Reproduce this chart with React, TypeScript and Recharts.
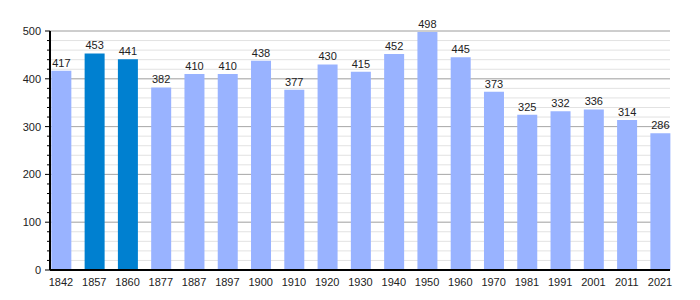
import React from 'react';
import { BarChart, Bar, XAxis, YAxis, CartesianGrid, LabelList, Cell } from 'recharts';

const years = ['1842','1857','1860','1877','1887','1897','1900','1910','1920','1930','1940','1950','1960','1970','1981','1991','2001','2011','2021'];
const population = [417,453,441,382,410,410,438,377,430,415,452,498,445,373,325,332,336,314,286];
const highlighted = ['1857','1860'];
const yTicks = [0,20,40,60,80,100,120,140,160,180,200,220,240,260,280,300,320,340,360,380,400,420,440,460,480,500];
const majorTicks = [100,200,300,400,500];

const data = years.map((y, i) => ({ idx: i, year: y, value: population[i] }));

const YTick = (props: any) => {
  const { x, y, payload } = props;
  const v = payload.value;
  const major = v % 100 === 0;
  return (
    <g>
      <line x1={x - (major ? 5 : 3)} x2={x} y1={y} y2={y} stroke="#000" strokeWidth={1} />
      {major && (
        <text x={x - 9} y={y} dy={4} textAnchor="end" fontSize={11} fill="#222" fontFamily="Liberation Sans, Arial, sans-serif">{v}</text>
      )}
    </g>
  );
};

export default function App() {
  return (
    <div style={{ position: 'absolute', left: 0, top: 0 }}>
      <BarChart width={700} height={300} data={data} margin={{ top: 31, right: 30, bottom: 0, left: 0 }}>
        <CartesianGrid vertical={false} stroke="#e2e2e2" />
        <CartesianGrid vertical={false} stroke="#aaaaaa" horizontalValues={majorTicks} />
        <XAxis
          dataKey="idx"
          type="number"
          domain={[-0.33, 18.3]}
          ticks={years.map((_, i) => i)}
          tickFormatter={(i: number) => years[i]}
          interval={0}
          tickLine={false}
          axisLine={{ stroke: '#000', strokeWidth: 2 }}
          height={30}
          tick={{ fontSize: 11, fill: '#222', fontFamily: 'Liberation Sans, Arial, sans-serif' }}
          tickMargin={2}
        />
        <YAxis
          domain={[0, 500]}
          ticks={yTicks}
          interval={0}
          width={50}
          tickLine={false}
          tickSize={0}
          tickMargin={0}
          axisLine={{ stroke: '#000', strokeWidth: 2 }}
          tick={<YTick />}
        />
        <Bar dataKey="value" barSize={20} isAnimationActive={false}>
          {data.map((d) => (
            <Cell key={d.year} fill={highlighted.includes(d.year) ? '#0080d0' : '#99b3ff'} />
          ))}
          <LabelList dataKey="value" position="top" offset={4} style={{ fontSize: 11, fill: '#222', fontFamily: 'Liberation Sans, Arial, sans-serif' }} />
        </Bar>
      </BarChart>
    </div>
  );
}
